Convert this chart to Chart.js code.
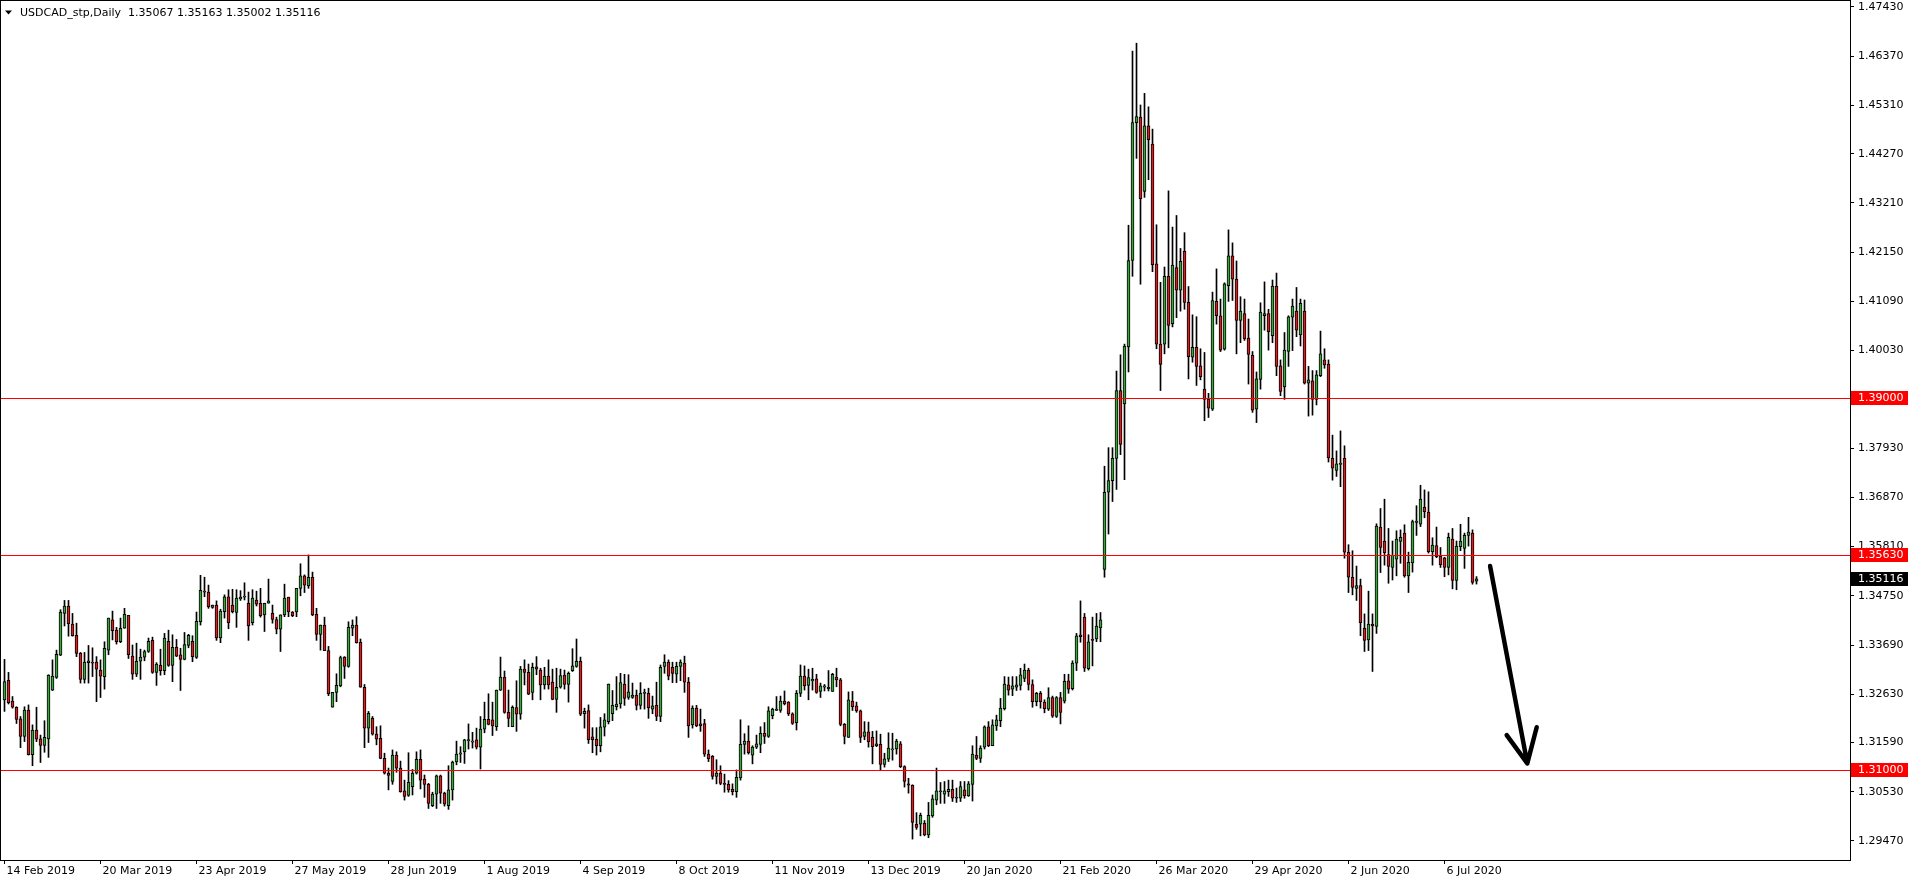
<!DOCTYPE html>
<html>
<head>
<meta charset="utf-8">
<title>USDCAD_stp, Daily</title>
<script src="https://cdn.jsdelivr.net/npm/chart.js@4.4.1/dist/chart.umd.min.js"></script>
<style>
  html, body { margin: 0; padding: 0; background: #fff; }
  #wrap { width: 1916px; height: 884px; }
</style>
</head>
<body>
<div id="wrap"><canvas id="chart" width="1916" height="884"></canvas></div>
<script>
// daily bars, oldest first (14 Feb 2019 .. mid Jul 2020)
const opens = [
  1.3251,1.3293,1.3248,1.3235,1.3210,1.3172,1.3229,1.3133,1.3186,1.3167,
  1.3153,1.3167,1.3272,1.3299,1.3347,1.3437,1.3453,1.3414,1.3390,1.3351,
  1.3295,1.3331,1.3332,1.3332,1.3315,1.3301,1.3358,1.3423,1.3401,1.3376,
  1.3405,1.3433,1.3345,1.3306,1.3334,1.3343,1.3355,1.3379,1.3310,1.3325,
  1.3314,1.3377,1.3325,1.3364,1.3348,1.3338,1.3368,1.3377,1.3342,1.3419,
  1.3485,1.3483,1.3450,1.3455,1.3384,1.3441,1.3473,1.3455,1.3439,1.3468,
  1.3472,1.3459,1.3417,1.3466,1.3459,1.3434,1.3459,1.3437,1.3424,1.3403,
  1.3434,1.3472,1.3440,1.3440,1.3491,1.3518,1.3496,1.3515,1.3435,1.3392,
  1.3412,1.3357,1.3235,1.3267,1.3281,1.3343,1.3323,1.3405,1.3412,1.3375,
  1.3278,1.3190,1.3211,1.3177,1.3168,1.3125,1.3093,1.3075,1.3132,1.3104,
  1.3055,1.3045,1.3064,1.3093,1.3123,1.3080,1.3069,1.3023,1.3048,1.3087,
  1.3050,1.3023,1.3057,1.3117,1.3134,1.3139,1.3163,1.3160,1.3165,1.3149,
  1.3188,1.3209,1.3208,1.3193,1.3272,1.3300,1.3224,1.3193,1.3234,1.3220,
  1.3317,1.3310,1.3267,1.3322,1.3315,1.3283,1.3302,1.3289,1.3252,1.3278,
  1.3304,1.3284,1.3314,1.3323,1.3334,1.3221,1.3228,1.3171,1.3166,1.3152,
  1.3192,1.3204,1.3221,1.3236,1.3242,1.3285,1.3256,1.3256,1.3261,1.3239,
  1.3265,1.3265,1.3231,1.3239,1.3215,1.3323,1.3332,1.3321,1.3306,1.3323,
  1.3330,1.3289,1.3197,1.3233,1.3199,1.3200,1.3134,1.3129,1.3086,1.3093,
  1.3071,1.3069,1.3058,1.3053,1.3083,1.3155,1.3162,1.3132,1.3149,1.3155,
  1.3179,1.3172,1.3217,1.3228,1.3228,1.3248,1.3246,1.3221,1.3202,1.3265,
  1.3302,1.3282,1.3292,1.3296,1.3269,1.3278,1.3275,1.3269,1.3300,1.3294,
  1.3198,1.3170,1.3248,1.3238,1.3227,1.3172,1.3182,1.3170,1.3152,1.3155,
  1.3112,1.3123,1.3143,1.3145,1.3156,1.3107,1.3070,1.3067,1.2983,1.2983,
  1.2985,1.2960,1.3001,1.3035,1.3053,1.3048,1.3053,1.3058,1.3039,1.3039,
  1.3057,1.3044,1.3069,1.3132,1.3125,1.3149,1.3193,1.3152,1.3195,1.3206,
  1.3232,1.3283,1.3274,1.3278,1.3282,1.3297,1.3315,1.3284,1.3247,1.3265,
  1.3246,1.3231,1.3256,1.3215,1.3256,1.3248,1.3292,1.3275,1.3330,1.3391,
  1.3429,1.3318,1.3381,1.3382,1.3406,1.3532,1.3698,1.3723,1.3771,1.3917,
  1.3888,1.4011,1.4197,1.4494,1.4506,1.4346,1.4487,1.4448,1.4190,1.4017,
  1.4017,1.4163,1.4061,1.4182,1.4133,1.4217,1.4107,1.3989,1.4010,1.3970,
  1.3920,1.3898,1.3877,1.4109,1.4078,1.4006,1.4143,1.4207,1.4157,1.4068,
  1.4083,1.4030,1.3993,1.3877,1.3941,1.4078,1.4083,1.4035,1.4142,1.3970,
  1.3925,1.4001,1.4075,1.4088,1.4037,1.4088,1.3933,1.3938,1.3898,1.3949,
  1.3983,1.3974,1.3771,1.3745,1.3758,1.3771,1.3569,1.3515,1.3491,1.3497,
  1.3405,1.3380,1.3414,1.3409,1.3623,1.3593,1.3564,1.3536,1.3554,1.3592,
  1.3610,1.3518,1.3546,1.3633,1.3629,1.3666,1.3655,1.3570,1.3583,1.3560,
  1.3557,1.3536,1.3597,1.3508,1.3581,1.3577,1.3605,1.3610,1.35067
];
const highs = [
  1.3338,1.3310,1.3258,1.3236,1.3215,1.3236,1.3240,1.3197,1.3235,1.3175,
  1.3206,1.3305,1.3337,1.3358,1.3445,1.3465,1.3465,1.3437,1.3416,1.3353,
  1.3353,1.3368,1.3363,1.3344,1.3337,1.3376,1.3427,1.3442,1.3407,1.3427,
  1.3448,1.3433,1.3369,1.3373,1.3360,1.3358,1.3384,1.3386,1.3331,1.3360,
  1.3394,1.3401,1.3391,1.3381,1.3362,1.3396,1.3392,1.3389,1.3440,1.3519,
  1.3515,1.3498,1.3455,1.3464,1.3446,1.3477,1.3488,1.3489,1.3488,1.3486,
  1.3503,1.3483,1.3488,1.3485,1.3491,1.3459,1.3511,1.3455,1.3429,1.3434,
  1.3500,1.3472,1.3441,1.3491,1.3544,1.3520,1.3563,1.3526,1.3448,1.3412,
  1.3429,1.3366,1.3267,1.3307,1.3345,1.3344,1.3419,1.3423,1.3430,1.3382,
  1.3284,1.3226,1.3215,1.3193,1.3195,1.3136,1.3104,1.3143,1.3139,1.3119,
  1.3078,1.3137,1.3101,1.3139,1.3143,1.3089,1.3071,1.3052,1.3089,1.3089,
  1.3052,1.3109,1.3119,1.3162,1.3150,1.3166,1.3199,1.3181,1.3190,1.3215,
  1.3246,1.3264,1.3246,1.3272,1.3343,1.3313,1.3272,1.3238,1.3292,1.3323,
  1.3337,1.3328,1.3330,1.3344,1.3319,1.3321,1.3337,1.3317,1.3319,1.3317,
  1.3315,1.3311,1.3361,1.3382,1.3343,1.3233,1.3240,1.3191,1.3191,1.3213,
  1.3221,1.3285,1.3271,1.3301,1.3308,1.3306,1.3305,1.3287,1.3272,1.3288,
  1.3274,1.3276,1.3259,1.3289,1.3326,1.3348,1.3337,1.3332,1.3332,1.3337,
  1.3345,1.3299,1.3238,1.3239,1.3231,1.3209,1.3143,1.3131,1.3122,1.3109,
  1.3091,1.3077,1.3070,1.3100,1.3208,1.3178,1.3195,1.3152,1.3175,1.3193,
  1.3202,1.3236,1.3233,1.3258,1.3259,1.3270,1.3247,1.3223,1.3271,1.3326,
  1.3324,1.3317,1.3319,1.3306,1.3287,1.3284,1.3314,1.3308,1.3319,1.3297,
  1.3200,1.3268,1.3269,1.3246,1.3229,1.3204,1.3203,1.3183,1.3184,1.3177,
  1.3136,1.3180,1.3179,1.3166,1.3161,1.3109,1.3082,1.3068,1.3008,1.3007,
  1.2991,1.3030,1.3046,1.3104,1.3073,1.3075,1.3078,1.3078,1.3061,1.3075,
  1.3075,1.3075,1.3152,1.3172,1.3152,1.3195,1.3204,1.3208,1.3218,1.3254,
  1.3301,1.3300,1.3301,1.3301,1.3319,1.3328,1.3319,1.3294,1.3267,1.3269,
  1.3251,1.3277,1.3259,1.3258,1.3267,1.3306,1.3306,1.3335,1.3394,1.3464,
  1.3437,1.3391,1.3429,1.3437,1.3439,1.3754,1.3794,1.3794,1.3959,1.3994,
  1.4017,1.4273,1.4648,1.4665,1.4532,1.4557,1.4528,1.4480,1.4274,1.4150,
  1.4183,1.4347,1.4269,1.4294,1.4223,1.4257,1.4141,1.4080,1.4076,1.4007,
  1.3999,1.3911,1.4129,1.4179,1.4114,1.4149,1.4263,1.4235,1.4196,1.4119,
  1.4114,1.4071,1.4001,1.3957,1.4106,1.4151,1.4092,1.4155,1.4170,1.3983,
  1.4042,1.4078,1.4114,1.4139,1.4114,1.4112,1.3969,1.3960,1.3960,1.4045,
  1.4007,1.3983,1.3821,1.3787,1.3830,1.3798,1.3585,1.3572,1.3539,1.3511,
  1.3436,1.3485,1.3436,1.3630,1.3663,1.3683,1.3620,1.3593,1.3615,1.3617,
  1.3628,1.3569,1.3638,1.3669,1.3713,1.3703,1.3699,1.3600,1.3623,1.3579,
  1.3558,1.3610,1.3620,1.3593,1.3629,1.3610,1.3644,1.3617,1.35163
];
const lows = [
  1.3226,1.3242,1.3233,1.3200,1.3148,1.3161,1.3132,1.3109,1.3161,1.3116,
  1.3138,1.3127,1.3271,1.3297,1.3346,1.3410,1.3388,1.3388,1.3344,1.3287,
  1.3287,1.3287,1.3301,1.3247,1.3256,1.3274,1.3348,1.3380,1.3371,1.3374,
  1.3405,1.3340,1.3295,1.3301,1.3295,1.3335,1.3353,1.3308,1.3282,1.3304,
  1.3305,1.3323,1.3290,1.3344,1.3271,1.3337,1.3363,1.3333,1.3340,1.3412,
  1.3473,1.3448,1.3448,1.3379,1.3374,1.3427,1.3404,1.3438,1.3407,1.3465,
  1.3466,1.3379,1.3412,1.3453,1.3429,1.3398,1.3459,1.3416,1.3393,1.3355,
  1.3430,1.3430,1.3430,1.3430,1.3475,1.3482,1.3491,1.3432,1.3379,1.3358,
  1.3357,1.3260,1.3235,1.3247,1.3279,1.3297,1.3321,1.3389,1.3373,1.3278,
  1.3148,1.3159,1.3175,1.3154,1.3124,1.3091,1.3057,1.3069,1.3095,1.3052,
  1.3035,1.3043,1.3046,1.3091,1.3059,1.3041,1.3017,1.3021,1.3017,1.3028,
  1.3022,1.3015,1.3035,1.3111,1.3116,1.3114,1.3145,1.3147,1.3145,1.3102,
  1.3180,1.3197,1.3174,1.3185,1.3271,1.3222,1.3193,1.3193,1.3183,1.3209,
  1.3283,1.3262,1.3251,1.3305,1.3251,1.3274,1.3274,1.3251,1.3224,1.3276,
  1.3274,1.3246,1.3312,1.3321,1.3217,1.3190,1.3157,1.3137,1.3132,1.3139,
  1.3173,1.3199,1.3206,1.3229,1.3233,1.3239,1.3252,1.3254,1.3229,1.3231,
  1.3231,1.3211,1.3221,1.3206,1.3204,1.3308,1.3294,1.3288,1.3288,1.3292,
  1.3267,1.3170,1.3190,1.3193,1.3183,1.3129,1.3118,1.3080,1.3070,1.3068,
  1.3052,1.3052,1.3046,1.3041,1.3078,1.3134,1.3134,1.3113,1.3146,1.3137,
  1.3157,1.3170,1.3210,1.3228,1.3224,1.3240,1.3217,1.3198,1.3186,1.3258,
  1.3272,1.3251,1.3272,1.3265,1.3256,1.3270,1.3270,1.3269,1.3279,1.3195,
  1.3156,1.3170,1.3228,1.3224,1.3159,1.3165,1.3149,1.3113,1.3150,1.3100,
  1.3106,1.3118,1.3121,1.3134,1.3105,1.3063,1.3050,1.2951,1.2972,1.2958,
  1.2958,1.2954,1.2998,1.3025,1.3028,1.3028,1.3043,1.3032,1.3030,1.3032,
  1.3039,1.3043,1.3033,1.3122,1.3116,1.3145,1.3150,1.3152,1.3185,1.3193,
  1.3229,1.3261,1.3260,1.3271,1.3272,1.3290,1.3272,1.3235,1.3238,1.3233,
  1.3223,1.3228,1.3213,1.3213,1.3199,1.3244,1.3265,1.3272,1.3314,1.3375,
  1.3312,1.3315,1.3324,1.3376,1.3376,1.3515,1.3608,1.3678,1.3704,1.3779,
  1.3725,1.3957,1.4163,1.4417,1.4146,1.4333,1.4371,1.4173,1.4007,1.3917,
  1.3996,1.4009,1.4054,1.4074,1.4088,1.4092,1.3942,1.3978,1.3928,1.3940,
  1.3852,1.3859,1.3874,1.4060,1.4001,1.4004,1.4109,1.4111,1.3996,1.4020,
  1.4025,1.3931,1.3870,1.3848,1.3920,1.4047,1.4004,1.4020,1.3949,1.3906,
  1.3898,1.3969,1.4003,1.4033,1.4013,1.3931,1.3862,1.3864,1.3886,1.3947,
  1.3965,1.3763,1.3724,1.3732,1.3710,1.3556,1.3482,1.3477,1.3465,1.3389,
  1.3355,1.3357,1.3312,1.3394,1.3525,1.3541,1.3502,1.3509,1.3518,1.3545,
  1.3515,1.3482,1.3526,1.3605,1.3624,1.3643,1.3567,1.3541,1.3557,1.3536,
  1.3516,1.3520,1.3490,1.3488,1.3572,1.3534,1.3582,1.3500,1.35002
];
const closes = [
  1.3290,1.3245,1.3235,1.3209,1.3172,1.3229,1.3133,1.3186,1.3166,1.3153,
  1.3170,1.3304,1.3302,1.3349,1.3440,1.3453,1.3415,1.3389,1.3351,1.3295,
  1.3332,1.3335,1.3330,1.3317,1.3302,1.3362,1.3427,1.3400,1.3376,1.3405,
  1.3435,1.3348,1.3306,1.3334,1.3343,1.3355,1.3377,1.3310,1.3328,1.3314,
  1.3384,1.3325,1.3364,1.3345,1.3338,1.3370,1.3390,1.3344,1.3420,1.3487,
  1.3483,1.3451,1.3455,1.3384,1.3442,1.3473,1.3417,1.3441,1.3470,1.3472,
  1.3474,1.3410,1.3470,1.3457,1.3432,1.3459,1.3464,1.3424,1.3403,1.3434,
  1.3470,1.3440,1.3432,1.3491,1.3518,1.3498,1.3515,1.3434,1.3392,1.3412,
  1.3357,1.3264,1.3267,1.3282,1.3342,1.3323,1.3407,1.3412,1.3374,1.3278,
  1.3190,1.3222,1.3177,1.3166,1.3125,1.3093,1.3088,1.3132,1.3104,1.3053,
  1.3043,1.3073,1.3093,1.3123,1.3078,1.3069,1.3028,1.3048,1.3087,1.3050,
  1.3026,1.3057,1.3117,1.3134,1.3137,1.3165,1.3165,1.3162,1.3149,1.3188,
  1.3209,1.3198,1.3195,1.3272,1.3300,1.3224,1.3211,1.3235,1.3220,1.3317,
  1.3310,1.3263,1.3321,1.3317,1.3283,1.3302,1.3283,1.3252,1.3278,1.3303,
  1.3284,1.3308,1.3324,1.3334,1.3220,1.3226,1.3165,1.3165,1.3152,1.3193,
  1.3208,1.3285,1.3239,1.3242,1.3288,1.3254,1.3268,1.3261,1.3239,1.3265,
  1.3267,1.3234,1.3238,1.3215,1.3321,1.3332,1.3302,1.3308,1.3323,1.3332,
  1.3289,1.3195,1.3233,1.3195,1.3195,1.3134,1.3124,1.3086,1.3093,1.3071,
  1.3069,1.3057,1.3053,1.3084,1.3155,1.3162,1.3137,1.3149,1.3156,1.3179,
  1.3172,1.3227,1.3231,1.3231,1.3248,1.3242,1.3221,1.3200,1.3265,1.3302,
  1.3281,1.3299,1.3295,1.3267,1.3281,1.3281,1.3278,1.3306,1.3294,1.3198,
  1.3172,1.3251,1.3236,1.3227,1.3170,1.3182,1.3161,1.3150,1.3156,1.3112,
  1.3124,1.3147,1.3145,1.3162,1.3107,1.3075,1.3067,1.2987,1.2976,1.3002,
  1.2960,1.3002,1.3038,1.3055,1.3055,1.3055,1.3058,1.3039,1.3040,1.3064,
  1.3044,1.3070,1.3134,1.3125,1.3147,1.3193,1.3152,1.3197,1.3208,1.3233,
  1.3285,1.3272,1.3281,1.3283,1.3305,1.3315,1.3284,1.3247,1.3265,1.3247,
  1.3232,1.3256,1.3216,1.3256,1.3224,1.3291,1.3274,1.3330,1.3389,1.3387,
  1.3319,1.3376,1.3379,1.3410,1.3423,1.3698,1.3723,1.3771,1.3917,1.3801,
  1.4013,1.4197,1.4494,1.4507,1.4330,1.4487,1.4457,1.4188,1.4017,1.3973,
  1.4163,1.4057,1.4187,1.4133,1.4195,1.4107,1.3990,1.4010,1.3969,1.3947,
  1.3898,1.3879,1.4111,1.4078,1.4004,1.4147,1.4207,1.4157,1.4068,1.4088,
  1.4028,1.3995,1.3875,1.3942,1.4086,1.4083,1.4044,1.4142,1.3969,1.3915,
  1.4004,1.4076,1.4099,1.4047,1.4105,1.3933,1.3940,1.3898,1.3951,1.3996,
  1.3972,1.3772,1.3750,1.3759,1.3760,1.3569,1.3515,1.3493,1.3497,1.3417,
  1.3379,1.3414,1.3410,1.3625,1.3579,1.3568,1.3538,1.3562,1.3597,1.3601,
  1.3518,1.3547,1.3635,1.3636,1.3683,1.3656,1.3570,1.3584,1.3559,1.3542,
  1.3536,1.3601,1.3508,1.3582,1.3593,1.3605,1.3612,1.3504,1.35116
];

// date axis: a label every 24 bars
const tickBars = [0, 24, 48, 72, 96, 120, 144, 168, 192, 216, 240, 264, 288, 312, 336, 360];
const tickLabels = ['14 Feb 2019', '20 Mar 2019', '23 Apr 2019', '27 May 2019', '28 Jun 2019',
  '1 Aug 2019', '4 Sep 2019', '8 Oct 2019', '11 Nov 2019', '13 Dec 2019', '20 Jan 2020',
  '21 Feb 2020', '26 Mar 2020', '29 Apr 2020', '2 Jun 2020', '6 Jul 2020'];

// price axis labels
const priceTicks = [1.47430, 1.46370, 1.45310, 1.44270, 1.43210, 1.42150, 1.41090, 1.40030,
  1.38970, 1.37930, 1.36870, 1.35810, 1.34750, 1.33690, 1.32630, 1.31590, 1.30530, 1.29470];

// horizontal levels drawn on the chart
const levels = [1.39000, 1.35630, 1.31000];

// hand drawn arrow, [bar, price]
const arrowFrom = [371.4, 1.3539];
const arrowTip = [380.7, 1.3114];
const arrowLeft = [375.55, 1.3175];
const arrowRight = [383.05, 1.3192];

const symbolTitle = 'USDCAD_stp,Daily  1.35067 1.35163 1.35002 1.35116';

const upColor = '#3ca43c';
const downColor = '#d81e1e';
const font = { family: 'DejaVu Sans', size: 11 };

// build wick and body bars
const wickData = [], bodyData = [], bodyColors = [];
for (let i = 0; i < closes.length; i++) {
  wickData.push({ x: i, y: [lows[i], highs[i]] });
  bodyData.push({ x: i, y: [opens[i], closes[i]] });
  bodyColors.push(closes[i] >= opens[i] ? upColor : downColor);
}

const overlay = {
  id: 'overlay',
  afterDatasetsDraw(chart) {
    const ctx = chart.ctx, area = chart.chartArea;
    const xs = chart.scales.x, ys = chart.scales.y;
    ctx.save();
    // red level lines
    ctx.fillStyle = '#ff0000';
    levels.forEach(lv => {
      const y = Math.round(ys.getPixelForValue(lv));
      ctx.fillRect(area.left, y, area.right - area.left, 1);
    });
    // arrow
    const pt = p => [xs.getPixelForValue(p[0]), ys.getPixelForValue(p[1])];
    const a = pt(arrowFrom), t = pt(arrowTip), l = pt(arrowLeft), r = pt(arrowRight);
    ctx.strokeStyle = '#000';
    ctx.lineWidth = 4.5;
    ctx.lineCap = 'round';
    ctx.lineJoin = 'round';
    ctx.beginPath();
    ctx.moveTo(a[0], a[1]);
    ctx.lineTo(t[0], t[1]);
    ctx.moveTo(l[0], l[1]);
    ctx.lineTo(t[0], t[1]);
    ctx.lineTo(r[0], r[1]);
    ctx.stroke();
    ctx.restore();
  },
  afterDraw(chart) {
    const ctx = chart.ctx, area = chart.chartArea, ys = chart.scales.y;
    ctx.save();
    // frame
    ctx.strokeStyle = '#000';
    ctx.lineWidth = 1;
    ctx.strokeRect(0.5, 0.5, area.right, area.bottom);
    // axis price boxes
    ctx.font = font.size + 'px ' + font.family;
    ctx.textBaseline = 'middle';
    ctx.textAlign = 'left';
    const box = (val, color) => {
      const y = Math.round(ys.getPixelForValue(val));
      ctx.fillStyle = color;
      ctx.fillRect(area.right + 1, y - 7, 57, 14);
      ctx.fillStyle = '#fff';
      ctx.fillText(val.toFixed(5), area.right + 8, y + 0.5);
    };
    levels.forEach(lv => box(lv, '#ff0000'));
    box(closes[closes.length - 1], '#000');
    // symbol line, top left
    ctx.fillStyle = '#000';
    ctx.beginPath();
    ctx.moveTo(5, 10.5);
    ctx.lineTo(12, 10.5);
    ctx.lineTo(8.5, 14.5);
    ctx.closePath();
    ctx.fill();
    ctx.fillText(symbolTitle, 20, 13);
    ctx.restore();
  }
};

new Chart(document.getElementById('chart'), {
  type: 'bar',
  data: {
    datasets: [
      { label: 'wick', data: wickData, backgroundColor: '#000', barThickness: 1, grouped: false, order: 2 },
      { label: 'body', data: bodyData, backgroundColor: bodyColors, borderColor: '#000', borderWidth: 1,
        borderSkipped: false, barThickness: 3, minBarLength: 1, grouped: false, order: 1 }
    ]
  },
  options: {
    responsive: false,
    animation: false,
    devicePixelRatio: 1,
    events: [],
    layout: { padding: { top: 1, left: 1, right: 0, bottom: 0 } },
    plugins: { legend: { display: false }, tooltip: { enabled: false } },
    scales: {
      x: {
        type: 'linear',
        min: -0.875,
        max: 461.375,
        offset: false,
        bounds: 'data',
        grid: { drawOnChartArea: false, drawTicks: true, tickLength: 4, color: '#000', offset: false },
        border: { display: false },
        ticks: {
          autoSkip: false, maxRotation: 0, minRotation: 0, align: 'start', labelOffset: 2, padding: 1,
          color: '#000', font: font,
          callback: v => tickLabels[tickBars.indexOf(v)]
        },
        afterBuildTicks: s => { s.ticks = tickBars.map(v => ({ value: v })); },
        afterFit: s => { s.height = 24; s.paddingLeft = 0; s.paddingRight = 0; }
      },
      y: {
        type: 'linear',
        position: 'right',
        min: 1.29060,
        max: 1.47559,
        bounds: 'data',
        grid: { drawOnChartArea: false, drawTicks: true, tickLength: 4, color: '#000' },
        border: { display: false },
        ticks: { autoSkip: false, padding: 4, color: '#000', font: font, callback: v => v.toFixed(5) },
        afterBuildTicks: s => { s.ticks = priceTicks.map(v => ({ value: v })); },
        afterFit: s => { s.width = 66; s.paddingTop = 0; s.paddingBottom = 0; }
      }
    }
  },
  plugins: [overlay]
});
</script>
</body>
</html>
